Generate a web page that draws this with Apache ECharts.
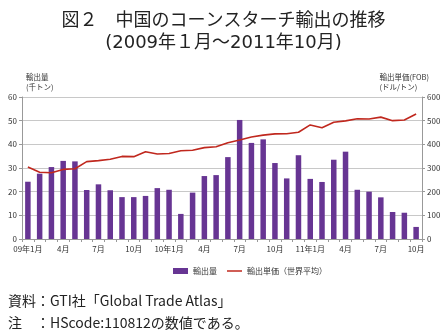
<!DOCTYPE html>
<html><head><meta charset="utf-8">
<script src="https://cdn.jsdelivr.net/npm/echarts@6/dist/echarts.min.js"></script>
<style>html,body{margin:0;padding:0;background:#fff}#c{width:447px;height:335px}</style>
</head><body><div id="c"></div>
<script>
const months = ["09年1月","2月","3月","4月","5月","6月","7月","8月","9月","10月","11月","12月",
"10年1月","2月","3月","4月","5月","6月","7月","8月","9月","10月","11月","12月",
"11年1月","2月","3月","4月","5月","6月","7月","8月","9月","10月"];
const volume = [24.2,27.6,30.4,33.0,32.8,20.7,23.1,20.6,17.7,17.7,18.2,21.5,
20.8,10.6,19.6,26.6,27.0,34.6,50.3,40.6,42.1,32.1,25.6,35.4,
25.4,24.1,33.5,36.9,20.8,20.0,17.6,11.4,11.1,5.1];
const price = [304,282,280,294,297,327,331,337,349,348,369,359,
361,373,375,386,390,407,418,431,439,444,445,451,
482,470,493,499,508,507,515,500,503,528];
const leftTicks = [0,10,20,30,40,50,60];
const rightTicks = [0,100,200,300,400,500,600];
const ff = '"Noto Sans CJK JP", sans-serif';
const ff2 = '"DejaVu Sans", "Noto Sans CJK JP", sans-serif';
const chart = echarts.init(document.getElementById('c'));
chart.setOption({
  animation:false,
  textStyle:{fontFamily:ff},
  title:[
    {text:'図２　中国のコーンスターチ輸出の推移',left:'center',top:5,
     textStyle:{fontFamily:ff,fontSize:18,fontWeight:'normal',color:'#222'}},
    {text:'(2009年１月～2011年10月)',left:'center',top:29,
     textStyle:{fontFamily:ff2,fontSize:18,fontWeight:'normal',color:'#222'}},
    {text:'輸出量\n(千トン)',left:21,top:67,textStyle:{fontFamily:ff,fontSize:7.5,fontWeight:'normal',color:'#333',lineHeight:10}},
    {text:'輸出単価(FOB)\n(ドル/トン)',right:13,top:67,textStyle:{fontFamily:ff,fontSize:7.5,fontWeight:'normal',color:'#333',lineHeight:10,align:'right'}},
    {text:'資料：GTI社「Global Trade Atlas」\n注　：HScode:110812の数値である。',left:3,top:285,
     textStyle:{fontFamily:ff,fontSize:14,fontWeight:'normal',color:'#222',lineHeight:22}}
  ],
  grid:{left:22,right:25,top:97,bottom:96},
  legend:{top:262,left:168,itemGap:10,itemWidth:15,itemHeight:6,
    textStyle:{fontFamily:ff,fontSize:8,color:'#333'},
    data:[{name:'輸出量',icon:'rect'},{name:'輸出単価（世界平均）',icon:'path://M0,0H20V2H0Z'}]},
  xAxis:{type:'category',data:months,boundaryGap:true,
    axisLine:{lineStyle:{color:'#999'}},
    axisTick:{show:true,interval:0,length:3,lineStyle:{color:'#999'}},
    axisLabel:{interval:2,fontSize:8,color:'#333',margin:6,fontFamily:ff}},
  yAxis:[
    {type:'value',min:0,max:60,interval:10,
     axisLine:{show:true,lineStyle:{color:'#999'}},axisTick:{show:true,length:3,lineStyle:{color:'#999'}},
     axisLabel:{fontSize:8,color:'#333',margin:5,formatter:v=>leftTicks.includes(v)?String(v):''},
     splitLine:{lineStyle:{color:'#c8c8c8'}}},
    {type:'value',min:0,max:600,interval:100,position:'right',
     axisLine:{show:true,lineStyle:{color:'#999'}},axisTick:{show:true,length:3,lineStyle:{color:'#999'}},
     axisLabel:{fontSize:8,color:'#333',margin:5,formatter:v=>rightTicks.includes(v)?String(v):''},
     splitLine:{show:false}}
  ],
  series:[
    {name:'輸出量',type:'bar',data:volume,barWidth:5.5,itemStyle:{color:'#673593'}},
    {name:'輸出単価（世界平均）',type:'line',yAxisIndex:1,data:price,symbol:'none',
     lineStyle:{color:'#c0281e',width:1.6},itemStyle:{color:'#c0281e'}}
  ]
});
</script></body></html>
